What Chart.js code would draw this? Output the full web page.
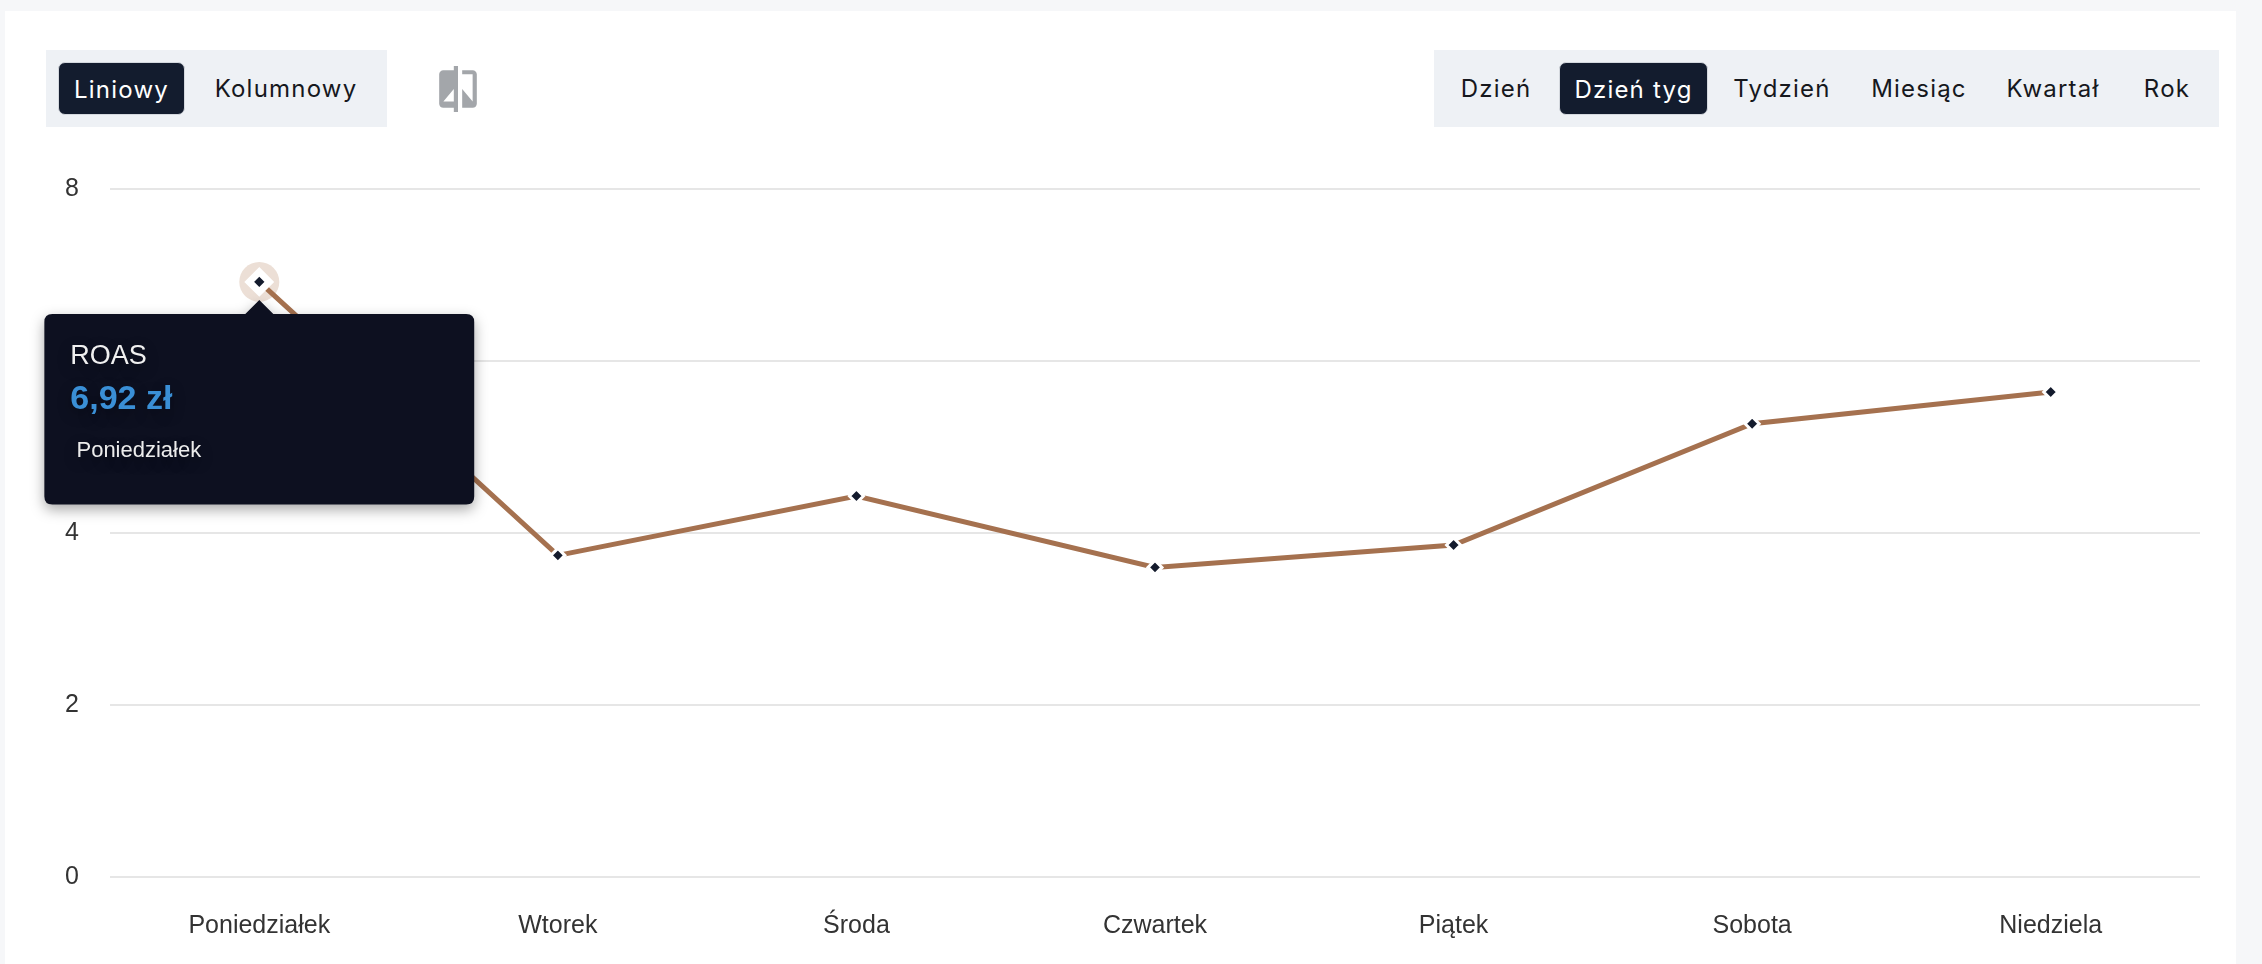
<!DOCTYPE html>
<html lang="pl">
<head>
<meta charset="utf-8">
<title>ROAS - dzień tygodnia</title>
<script src="https://cdn.jsdelivr.net/npm/chart.js@4.4.1/dist/chart.umd.min.js"></script>
<style>
  html, body { margin: 0; padding: 0; }
  body {
    width: 2262px; height: 964px; overflow: hidden;
    background: #f6f7f9; position: relative;
    font-family: Inter, "Noto Sans", sans-serif;
  }
  .card { position: absolute; left: 5px; top: 11px; width: 2231px; height: 980px; background: #fff; }
  .group { position: absolute; top: 50px; height: 77px; background: #eef1f5; }
  .btn {
    position: absolute; top: 12px; height: 53px; line-height: 53px;
    text-align: center; font-size: 24px; letter-spacing: 1.2px; color: #16181d;
    border-radius: 7px; box-sizing: border-box;
  }
  .btn.active { background: #131c2e; color: #fff; border: 1px solid #d4d8de; }
  .icon { position: absolute; left: 436px; top: 66px; width: 44px; height: 46px; }
  #chart-wrap { position: absolute; left: 0; top: 140px; width: 2262px; height: 824px; }
</style>
</head>
<body>
<div class="card"></div>

<div class="group" style="left:46px;width:341px;">
  <div class="btn active" style="left:12px;width:127px;">Liniowy</div>
  <div class="btn" style="left:145px;width:190px;">Kolumnowy</div>
</div>

<svg class="icon" viewBox="2 1 20 22" fill="#a3a6aa">
  <path d="M10 3H5c-1.11 0-2 .9-2 2v14c0 1.1.89 2 2 2h5v2h2V1h-2v2zm0 15H5l5-6v6zm9-15h-5v2h5v13l-5-6v9h5c1.1 0 2-.9 2-2V5c0-1.1-.9-2-2-2z"/>
</svg>

<div class="group" style="left:1434px;width:785px;">
  <div class="btn" style="left:12px;width:100px;">Dzień</div>
  <div class="btn active" style="left:125px;width:149px;">Dzień tyg</div>
  <div class="btn" style="left:287px;width:122px;">Tydzień</div>
  <div class="btn" style="left:422px;width:126px;">Miesiąc</div>
  <div class="btn" style="left:561px;width:116px;">Kwartał</div>
  <div class="btn" style="left:690px;width:86px;">Rok</div>
</div>

<div id="chart-wrap"><canvas id="roas-graph" width="2262" height="824"></canvas></div>

<script>
const roasGraph = document.querySelector("#roas-graph");

const days = ["Poniedziałek", "Wtorek", "Środa", "Czwartek", "Piątek", "Sobota", "Niedziela"];
const roasValues = [6.92, 3.74, 4.43, 3.60, 3.86, 5.27, 5.64];
const yTicks = [0, 2, 4, 6, 8];

const lineColor = "#a5714f";
const pointColor = "#141b2d";
const labelFont = "'Liberation Sans', Arial, sans-serif";

const formatZl = (v) => v.toFixed(2).replace(".", ",") + " zł";

// beige circle behind the hovered point
const haloPlugin = {
  id: "halo",
  beforeDatasetsDraw(chart) {
    const ctx = chart.ctx;
    chart.getActiveElements().forEach((a) => {
      const el = chart.getDatasetMeta(a.datasetIndex).data[a.index];
      ctx.save();
      ctx.beginPath();
      ctx.arc(el.x, el.y, 20, 0, Math.PI * 2);
      ctx.fillStyle = "#ecdfd6";
      ctx.fill();
      ctx.restore();
    });
  },
};

// soft shadow under the tooltip box
const tooltipShadow = {
  id: "tooltipShadow",
  beforeTooltipDraw(chart) {
    const ctx = chart.ctx;
    ctx.save();
    ctx.shadowColor = "rgba(0,0,0,0.35)";
    ctx.shadowBlur = 14;
    ctx.shadowOffsetY = 5;
  },
  afterTooltipDraw(chart) {
    chart.ctx.restore();
  },
};

const renderRoasGraph = () => {
  const roasData = {
    labels: days,
    datasets: [
      {
        label: "ROAS",
        data: roasValues,
        borderColor: lineColor,
        borderWidth: 5,
        tension: 0,
        pointStyle: "rectRot",
        pointRadius: 7,
        pointBorderWidth: 3,
        pointBorderColor: "#ffffff",
        pointBackgroundColor: pointColor,
        pointHoverRadius: 10,
        pointHoverBorderWidth: 7,
        pointHoverBorderColor: "#ffffff",
        pointHoverBackgroundColor: pointColor,
      },
    ],
  };

  const lineOptions = {
    responsive: false,
    animation: false,
    layout: { padding: { top: 49, right: 62, bottom: 0, left: 0 } },
    scales: {
      x: {
        offset: true,
        grid: { display: false, drawTicks: false },
        border: { display: false },
        ticks: {
          padding: 34,
          color: "#333333",
          font: { family: labelFont, size: 25 },
        },
        afterFit: (scale) => { scale.height = 87; },
      },
      y: {
        min: 0,
        max: 8,
        grid: { color: "#e6e6e6", lineWidth: 2, drawTicks: false },
        border: { display: false },
        ticks: {
          stepSize: 2,
          padding: 31,
          color: "#333333",
          font: { family: labelFont, size: 25 },
          callback: (v) => (yTicks.includes(v) ? v : ""),
        },
        afterFit: (scale) => { scale.width = 110; },
      },
    },
    plugins: {
      legend: { display: false },
      tooltip: {
        enabled: true,
        xAlign: "center",
        yAlign: "top",
        backgroundColor: "#0d1020",
        cornerRadius: 8,
        caretSize: 14,
        caretPadding: 18,
        displayColors: false,
        padding: { top: 26, left: 26, right: 273, bottom: 40 },
        titleFont: { family: labelFont, size: 27, weight: "normal" },
        titleColor: "#f0f0f0",
        titleMarginBottom: 7,
        bodyFont: { family: labelFont, size: 34, weight: "bold" },
        bodyColor: "#3a8fd6",
        footerFont: { family: labelFont, size: 22, weight: "normal" },
        footerColor: "#ececec",
        footerMarginTop: 18,
        callbacks: {
          title: (items) => items[0].dataset.label,
          label: (item) => formatZl(item.parsed.y),
          footer: (items) => " " + items[0].label,
        },
      },
    },
  };

  const chart = new Chart(roasGraph, {
    type: "line",
    data: roasData,
    options: lineOptions,
    plugins: [haloPlugin, tooltipShadow],
  });

  const active = [{ datasetIndex: 0, index: 0 }];
  const pt = chart.getDatasetMeta(0).data[0];
  chart.setActiveElements(active);
  chart.tooltip.setActiveElements(active, { x: pt.x, y: pt.y });
  chart.update();
};

document.addEventListener("DOMContentLoaded", () => {
  renderRoasGraph();
});
</script>
</body>
</html>
